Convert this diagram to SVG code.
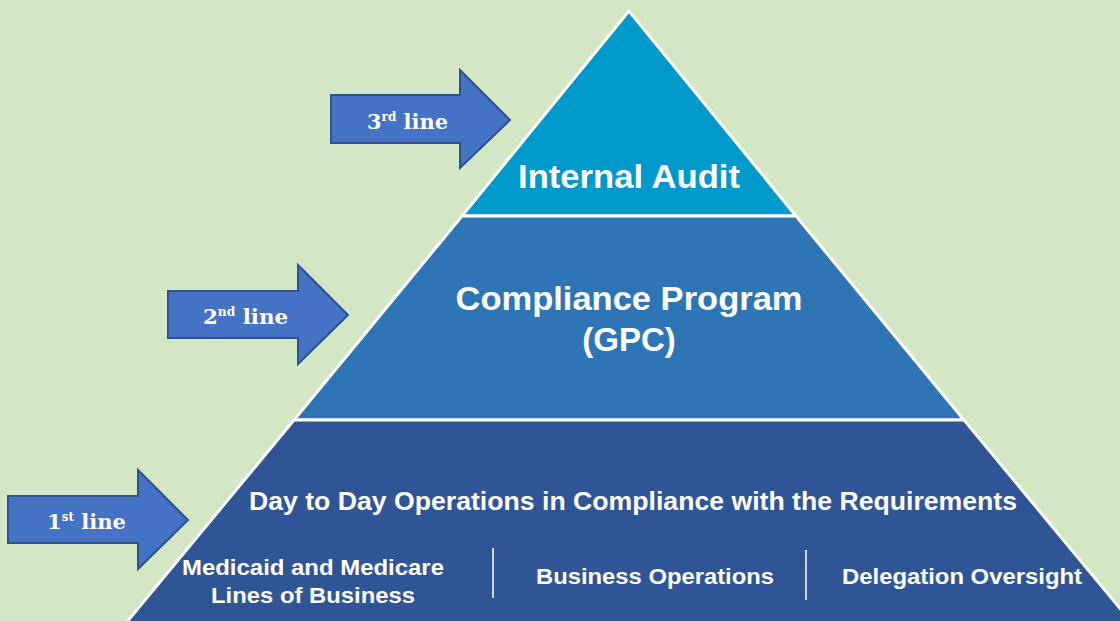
<svg xmlns="http://www.w3.org/2000/svg" width="1120" height="621" viewBox="0 0 1120 621">
<style>
.lvl{stroke:#ffffff;stroke-width:3;stroke-linejoin:miter}
.arrow{fill:#4472C4;stroke:#2F528F;stroke-width:2}
.at{font-family:"DejaVu Serif","Liberation Serif",serif;font-weight:bold;font-size:21px;fill:#ffffff}
.sup{font-size:12px}
.t{font-family:"Liberation Sans",Arial,sans-serif;font-weight:bold;fill:#ffffff;text-anchor:middle}
.div{stroke:#ffffff;stroke-width:1.5}
</style>
<rect x="0" y="0" width="1120" height="621" fill="#D4E7C5"/>
<g id="level-internal-audit">
<polygon class="lvl" fill="#0099CC" points="629,11 462,216 796,216"/>
<text class="t" x="629" y="188" font-size="33" textLength="222" lengthAdjust="spacingAndGlyphs">Internal Audit</text>
</g>
<g id="level-compliance-program">
<polygon class="lvl" fill="#2E75B6" points="462,216 796,216 964,420 294,420"/>
<text class="t" x="629" y="310" font-size="33" textLength="347" lengthAdjust="spacingAndGlyphs">Compliance Program</text>
<text class="t" x="629" y="351" font-size="33">(GPC)</text>
</g>
<g id="level-operations">
<polygon class="lvl" fill="#2F5597" points="294,420 964,420 1132,623 126,623"/>
<text class="t" x="633" y="510" font-size="25" textLength="768" lengthAdjust="spacingAndGlyphs">Day to Day Operations in Compliance with the Requirements</text>
<text class="t" x="313" y="575" font-size="22" textLength="262" lengthAdjust="spacingAndGlyphs">Medicaid and Medicare</text>
<text class="t" x="313" y="603" font-size="22" textLength="204" lengthAdjust="spacingAndGlyphs">Lines of Business</text>
<text class="t" x="655" y="584" font-size="22" textLength="238" lengthAdjust="spacingAndGlyphs">Business Operations</text>
<text class="t" x="962" y="584" font-size="22" textLength="240" lengthAdjust="spacingAndGlyphs">Delegation Oversight</text>
<line class="div" x1="493" y1="548" x2="493" y2="598"/>
<line class="div" x1="806" y1="550" x2="806" y2="600"/>
</g>
<g id="arrow-3rd">
<polygon class="arrow" points="331,95 460,95 460,70 510,120 460,168 460,143 331,143"/>
<text class="at" x="367" y="129" textLength="81" lengthAdjust="spacingAndGlyphs">3<tspan class="sup" dy="-8">rd</tspan><tspan dy="8"> line</tspan></text>
</g>
<g id="arrow-2nd">
<polygon class="arrow" points="168,291 298,291 298,265 348,315 298,364 298,338 168,338"/>
<text class="at" x="203" y="324" textLength="85" lengthAdjust="spacingAndGlyphs">2<tspan class="sup" dy="-8">nd</tspan><tspan dy="8"> line</tspan></text>
</g>
<g id="arrow-1st">
<polygon class="arrow" points="8,496 138,496 138,470 188,520 138,569 138,543 8,543"/>
<text class="at" x="47" y="529" textLength="79" lengthAdjust="spacingAndGlyphs">1<tspan class="sup" dy="-8">st</tspan><tspan dy="8"> line</tspan></text>
</g>
<g id="connectors"></g>
</svg>
